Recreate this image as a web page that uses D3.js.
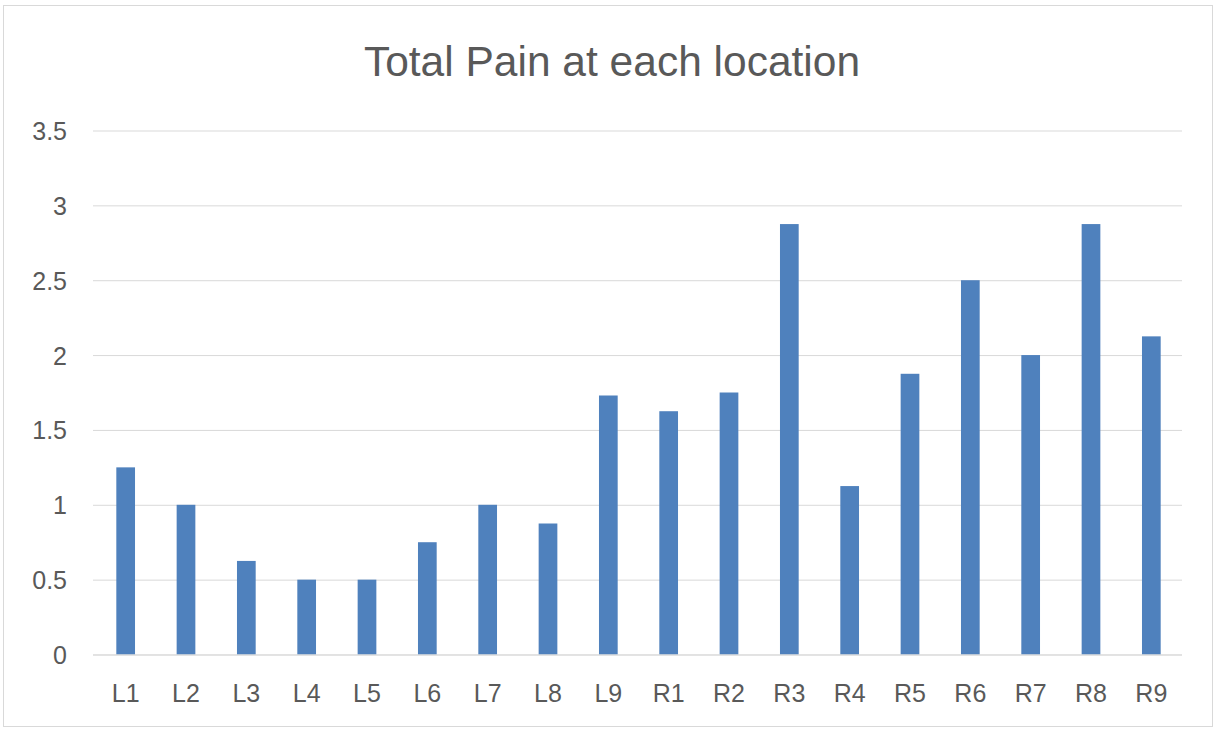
<!DOCTYPE html>
<html><head><meta charset="utf-8">
<script src="https://cdn.jsdelivr.net/npm/d3@7"></script>
<style>body{margin:0;background:#fff;} svg{display:block;}</style>
</head><body>
<svg id="chart" width="1215" height="729"></svg>
<script>
const categories = ["L1","L2","L3","L4","L5","L6","L7","L8","L9","R1","R2","R3","R4","R5","R6","R7","R8","R9"];
const values = [1.25,1.0,0.625,0.5,0.5,0.75,1.0,0.875,1.73,1.625,1.75,2.875,1.125,1.875,2.5,2.0,2.875,2.125];
const yTicks = [0,0.5,1,1.5,2,2.5,3,3.5];
const title = "Total Pain at each location";

(function(){
const svg = d3.select("#chart");
const font = "'Liberation Sans', Arial, sans-serif";
svg.append("rect").attr("x",3.5).attr("y",5.5).attr("width",1209).attr("height",721)
  .attr("fill","#fff").attr("stroke","#d9d9d9").attr("stroke-width",1);

const pLeft=93, pRight=1182, pTop=130.5, pBottom=654.5;
const x = d3.scaleBand().domain(categories).range([95.5,1181.5]).paddingInner(0.69).paddingOuter(0.345);
const y = d3.scaleLinear().domain([0,3.5]).range([pBottom,pTop]);

svg.append("text").attr("x",612).attr("y",76).attr("text-anchor","middle")
  .attr("font-family",font).attr("font-size",42.5).attr("fill","#595959").text(title);

const yAxis = d3.axisLeft(y).tickValues(yTicks).tickSize(-(pRight-pLeft)).tickPadding(26)
  .tickFormat(d3.format("~g"));
const gy = svg.append("g").attr("transform",`translate(${pLeft},0)`).call(yAxis);
gy.select(".domain").remove();
gy.selectAll(".tick line").attr("stroke","#d9d9d9").attr("stroke-width",1);
gy.selectAll(".tick text").attr("font-family",font).attr("font-size",25).attr("fill","#595959").attr("dy","0.36em");

svg.append("g").selectAll("rect").data(values).join("rect")
  .attr("x",(d,i)=>x(categories[i])).attr("width",x.bandwidth())
  .attr("y",d=>y(d)).attr("height",d=>pBottom-y(d)).attr("fill","#4f81bd");

const xAxis = d3.axisBottom(x).tickSize(0).tickPadding(30);
const gx = svg.append("g").attr("transform",`translate(0,${pBottom})`).call(xAxis);
gx.select(".domain").attr("d",`M${pLeft},0.5H${pRight}`).attr("stroke","#d9d9d9");
gx.selectAll(".tick text").attr("font-family",font).attr("font-size",25).attr("fill","#595959");
})();
</script>
</body></html>
